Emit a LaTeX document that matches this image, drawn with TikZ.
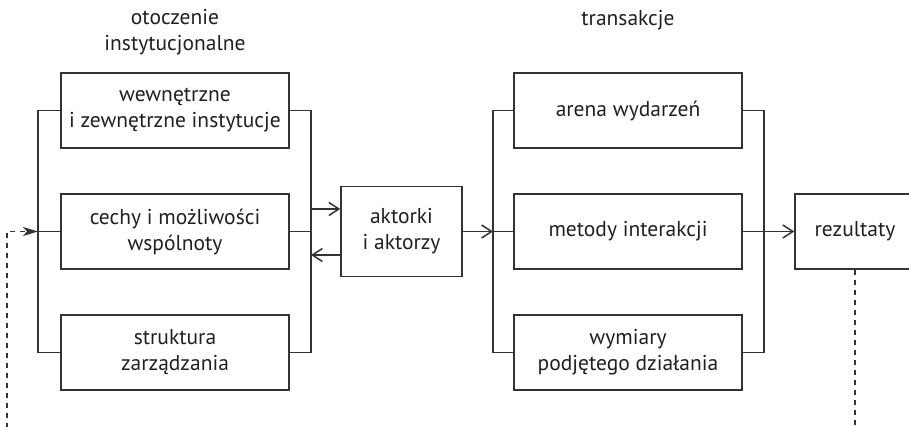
\documentclass[tikz,border=0pt]{standalone}
\usepackage{fontspec}
\setmainfont{PT Sans}
\usetikzlibrary{arrows.meta}
\definecolor{ink}{HTML}{231F20}
\definecolor{ln}{HTML}{333333}
\begin{document}
\begin{tikzpicture}[x=1pt,y=-1pt,
  box/.style={draw=ln,line width=1.5pt,minimum width=228pt,minimum height=75pt,inner sep=0pt,align=center,text=ink,font=\fontsize{21.5}{26}\selectfont},
  head/.style={align=center,text=ink,font=\fontsize{21.5}{26}\selectfont},
  wire/.style={draw=ln,line width=1.5pt},
  oarrow/.style={wire,-{Straight Barb[length=10pt,width=13pt]}},
  dashline/.style={draw=ln,line width=1.5pt,dash pattern=on 5pt off 5pt,-{Stealth[length=15pt,width=9pt,inset=4pt,sep=0pt]}}]
\useasboundingbox (0,0) rectangle (909,427);
\clip (0,0) rectangle (909,427);
% headings
\node[head] (h1) at (175,32.5) {otoczenie\\instytucjonalne};
\node[head] (h2) at (628,20) {transakcje};
% left group
\node[box] (w) at (175,110.5) {wewnętrzne\\i zewnętrzne instytucje};
\node[box] (c) at (175,231.5) {cechy i możliwości\\wspólnoty};
\node[box] (s) at (175,352.5) {struktura\\zarządzania};
% centre
\node[box,minimum width=121pt,minimum height=90pt] (a) at (401.5,231.5) {aktorki\\i aktorzy};
% right group
\node[box] (ar) at (628,110.5) {arena wydarzeń};
\node[box] (m) at (628,231.5) {metody interakcji};
\node[box] (wy) at (628,352.5) {wymiary\\podjętego działania};
% result
\node[box,minimum width=120pt] (r) at (855,231.5) {rezultaty};
% bracket coordinates
\coordinate (L1) at (38,110.5);
\coordinate (L2) at (38,231.5);
\coordinate (L3) at (38,352.5);
\coordinate (R1) at (311,110.5);
\coordinate (R2) at (311,231.5);
\coordinate (R3) at (311,352.5);
\coordinate (T1) at (493,110.5);
\coordinate (T2) at (493,231.5);
\coordinate (T3) at (493,352.5);
\coordinate (U1) at (764,110.5);
\coordinate (U3) at (764,352.5);
\coordinate (Ru) at (311,209);
\coordinate (Rd) at (311,255);
\coordinate (D) at (7,445);
% left brackets
\draw[wire] (w.west) -- (L1) -- (L3) -- (s.west);
\draw[wire] (c.west) -- (L2);
\draw[wire] (w.east) -- (R1) -- (R3) -- (s.east);
\draw[wire] (c.east) -- (R2);
% arrows to/from actors
\draw[oarrow] (Ru) -- (Ru -| a.west);
\draw[oarrow] (Rd -| a.west) -- (Rd);
\draw[oarrow] (a.east) -- (T2);
% right brackets
\draw[wire] (ar.west) -- (T1) -- (T3) -- (wy.west);
\draw[wire] (T2) -- (m.west);
\draw[wire] (ar.east) -- (U1) -- (U3) -- (wy.east);
\draw[oarrow] (m.east) -- (r.west);
% feedback loop
\draw[dashline] (r.south) |- (D) |- (L2);
\end{tikzpicture}
\end{document}
